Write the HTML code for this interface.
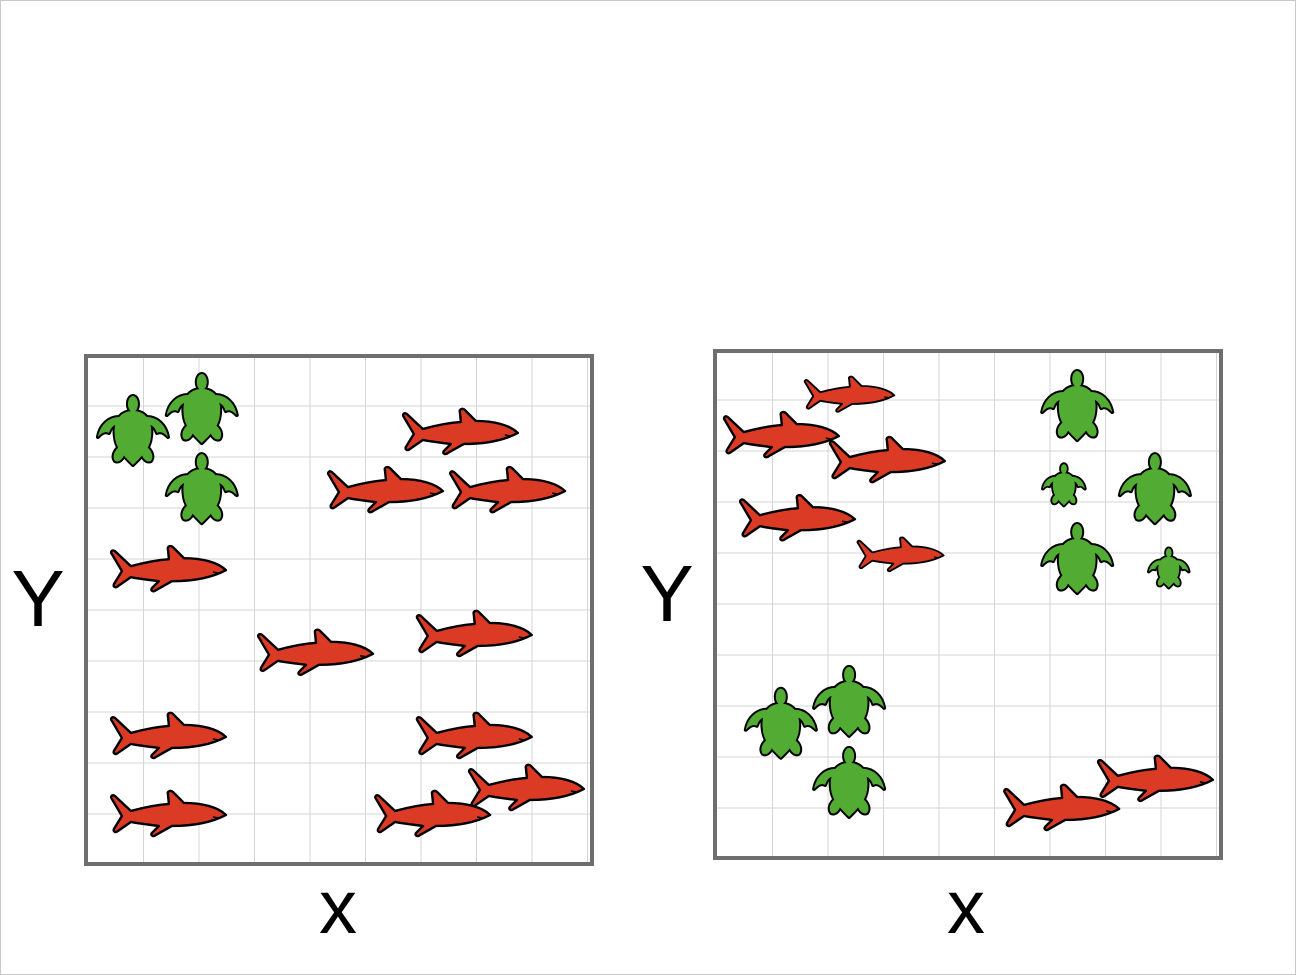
<!DOCTYPE html>
<html><head><meta charset="utf-8"><style>
html,body{margin:0;padding:0;background:#fff}
#wrap{position:relative;width:1296px;height:975px;overflow:hidden}
svg{position:absolute;left:0;top:0}
</style></head><body>
<div id="wrap">
<svg id="s" width="1296" height="975" viewBox="0 0 1296 975">
<rect x="0.5" y="0.5" width="1295" height="974" fill="#fff" stroke="#c8c8c8"/>
<defs>
<g id="sharkShape">
<path d="M116,24 C108,16 92,12 74,12 L63,1 C61,-1 57,0 58,3 L59,13 C45,14 32,17 21,20 L5,5 C2,3 0,6 2,8 L12,25 L4,38 C3,41 6,42 8,40 L21,31 C31,33 41,34 49,35 L42,42 C40,45 44,46 46,44 L62,35 C82,35 101,32 116,24 Z"/>
</g>
<g id="turtleShape">
<ellipse cx="36" cy="9" rx="5" ry="8"/>
<path d="M36,16 C50,16 56,28 54,42 C53,54 44,62 36,70 C28,62 19,54 18,42 C16,28 22,16 36,16 Z"/>
<path d="M22,22 C12,22 3,30 1,42 C5,38 8,36 12,38 C14,32 18,28 24,30 Z"/>
<path d="M50,22 C60,22 69,30 71,42 C67,38 64,36 60,38 C58,32 54,28 48,30 Z"/>
<path d="M22,52 C17,56 15,62 18,66 C22,68 26,64 28,58 Z"/>
<path d="M50,52 C55,56 57,62 54,66 C50,68 46,64 44,58 Z"/>
</g>
</defs>
<g id="p1"></g>
<g id="p2"></g>
<g font-family="Liberation Sans, sans-serif" fill="#000">
<text x="38" y="626" font-size="80" text-anchor="middle">Y</text>
<text x="338" y="933" font-size="76" text-anchor="middle">x</text>
<text x="667" y="621" font-size="80" text-anchor="middle">Y</text>
<text x="966" y="933" font-size="76" text-anchor="middle">x</text>
</g>
</svg>
</div>
<script>
// Left plot data (grid units: x 0..9, y 0..10)
const p1SharkX = [1.44, 6.70, 5.35, 7.55, 4.09, 6.95, 1.44, 6.95, 1.44, 6.20, 7.89];
const p1SharkY = [5.84, 8.53, 7.39, 7.39, 4.20, 4.57, 2.57, 2.57, 1.04, 1.04, 1.55];
const p1SharkSize = [1, 1, 1, 1, 1, 1, 1, 1, 1, 1, 1];
const p1TurtleX = [0.81, 2.05, 2.05];
const p1TurtleY = [8.53, 8.96, 7.39];
const p1TurtleSize = [1, 1, 1];
// Right plot data
const p2SharkX = [2.38, 1.15, 3.06, 1.44, 3.30, 6.20, 7.89];
const p2SharkY = [9.20, 8.41, 7.92, 6.78, 6.06, 1.10, 1.67];
const p2SharkSize = [0.78, 1, 1, 1, 0.75, 1, 1];
const p2TurtleX = [6.49, 6.25, 7.89, 6.49, 8.14, 1.15, 2.38, 2.38];
const p2TurtleY = [8.96, 7.41, 7.33, 5.96, 5.78, 2.73, 3.16, 1.57];
const p2TurtleSize = [1, 0.6, 1, 1, 0.57, 1, 1, 1];

const NS = 'http://www.w3.org/2000/svg';
function mk(tag, attrs, parent){const e=document.createElementNS(NS,tag);for(const k in attrs)e.setAttribute(k,attrs[k]);parent.appendChild(e);return e;}

function drawPlot(gid, box, sx, sy, ss, tx, ty, ts){
  const g = document.getElementById(gid);
  const x0 = box.x0, y0 = box.y0, ux = 55.5, uy = 51;
  const X = v => x0 + v*ux, Y = v => y0 - v*uy;
  const gy0 = box.gridY0;
  for(let i=1;i<=9;i++){
    const l = mk('line',{x1:X(i),x2:X(i),y1:box.top,y2:box.bottom,stroke:'#d4d4d4','stroke-width':1},g);
    
    
  }
  for(let j=1;j<=9;j++){
    const l = mk('line',{x1:box.left,x2:box.right,y1:gy0-j*uy,y2:gy0-j*uy,stroke:'#d4d4d4','stroke-width':1},g);
    
    
  }
  const fr = mk('rect',{x:box.left,y:box.top,width:box.right-box.left,height:box.bottom-box.top,fill:'none',stroke:'#6e6e6e','stroke-width':4},g);
  
  
  for(let i=0;i<tx.length;i++){
    const s = ts[i];
    const t = mk('g',{transform:`translate(${X(tx[i])-36*s},${Y(ty[i])-36*s}) scale(${s})`},g);
    
    
    mk('use',{href:'#turtleShape',fill:'#000',stroke:'#000','stroke-width':4/s*0.75+1,'stroke-linejoin':'round'},t);
    mk('use',{href:'#turtleShape',fill:'#52ac33'},t);
  }
  for(let i=0;i<sx.length;i++){
    const s = ss[i];
    const t = mk('g',{transform:`translate(${X(sx[i])-58*s},${Y(sy[i])-22*s}) scale(${s})`},g);
    
    
    mk('use',{href:'#sharkShape',fill:'#db3b25',stroke:'#000','stroke-width':2.4,'stroke-linejoin':'round'},t);
    mk('path',{d:'M103,26 L109,27',stroke:'#000','stroke-width':1.5,fill:'none'},t);
  }
}
drawPlot('p1',{x0:88,y0:866,gridY0:865,left:86,right:592,top:356,bottom:864}, p1SharkX,p1SharkY,p1SharkSize,p1TurtleX,p1TurtleY,p1TurtleSize);
drawPlot('p2',{x0:717,y0:863,gridY0:859,left:715,right:1221,top:351,bottom:858}, p2SharkX,p2SharkY,p2SharkSize,p2TurtleX,p2TurtleY,p2TurtleSize);
</script>
</body></html>
